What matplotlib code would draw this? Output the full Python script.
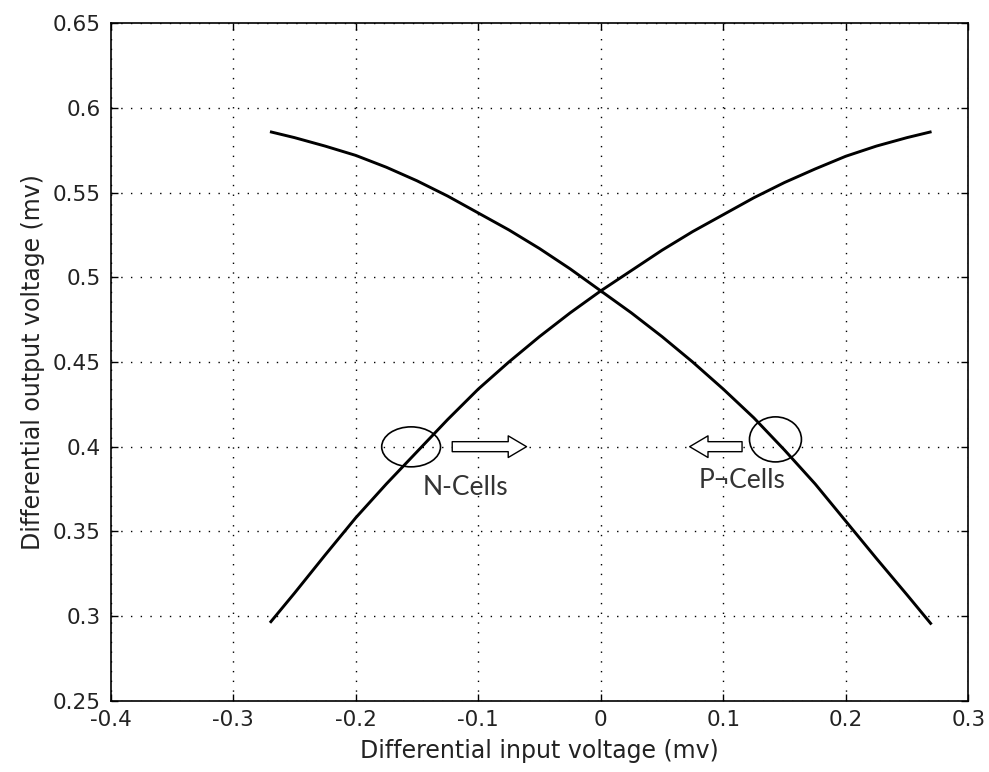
import matplotlib
matplotlib.use("Agg")
import matplotlib.pyplot as plt
from matplotlib.patches import Ellipse, FancyArrowPatch

# Data
x_n = [-0.27, -0.25, -0.225, -0.2, -0.175, -0.15, -0.125, -0.1, -0.075, -0.05, -0.025, 0.0,
       0.025, 0.05, 0.075, 0.1, 0.125, 0.15, 0.175, 0.2, 0.225, 0.25, 0.27]
y_n = [0.296, 0.3135, 0.336, 0.358, 0.378, 0.397, 0.416, 0.434, 0.450, 0.465, 0.479, 0.492,
       0.504, 0.516, 0.527, 0.537, 0.547, 0.556, 0.564, 0.5715, 0.5775, 0.5825, 0.586]
x_p = [-0.27, -0.25, -0.225, -0.2, -0.175, -0.15, -0.125, -0.1, -0.075, -0.05, -0.025, 0.0,
       0.025, 0.05, 0.075, 0.1, 0.125, 0.15, 0.175, 0.2, 0.225, 0.25, 0.27]
y_p = [0.586, 0.5825, 0.5775, 0.572, 0.565, 0.557, 0.548, 0.538, 0.528, 0.517, 0.505, 0.492,
       0.479, 0.465, 0.450, 0.434, 0.417, 0.398, 0.378, 0.356, 0.334, 0.3125, 0.295]

x_ticks = [-0.4, -0.3, -0.2, -0.1, 0, 0.1, 0.2, 0.3]
x_tick_labels = ["-0.4", "-0.3", "-0.2", "-0.1", "0", "0.1", "0.2", "0.3"]
y_ticks = [0.25, 0.3, 0.35, 0.4, 0.45, 0.5, 0.55, 0.6, 0.65]
y_tick_labels = ["0.25", "0.3", "0.35", "0.4", "0.45", "0.5", "0.55", "0.6", "0.65"]

n_label = "N-Cells"
p_label = "P\u00acCells"
x_label = "Differential input voltage (mv)"
y_label = "Differential output voltage (mv)"

fig = plt.figure(figsize=(9.89, 7.72), dpi=100)
ax = fig.add_axes([110.7/989, 1-700.7/772, (968.3-110.7)/989, (700.7-23.3)/772])

ax.plot(x_n, y_n, color="black", lw=2.1, solid_capstyle="butt", solid_joinstyle="round")
ax.plot(x_p, y_p, color="black", lw=2.1, solid_capstyle="butt", solid_joinstyle="round")

ax.set_xlim(-0.4, 0.3)
ax.set_ylim(0.25, 0.65)
ax.set_xticks(x_ticks)
ax.set_xticklabels(x_tick_labels)
ax.set_yticks(y_ticks)
ax.set_yticklabels(y_tick_labels)
ax.grid(True, color="black", linestyle=(0, (1, 6)), linewidth=1.0)
ax.tick_params(direction="in", length=5, width=1, top=True, right=True,
               labelsize=15.5, pad=7, colors="black")
for lab in ax.get_xticklabels() + ax.get_yticklabels():
    lab.set_fontfamily("DejaVu Sans")
    lab.set_color("#222222")
for s in ax.spines.values():
    s.set_linewidth(1.2)
    s.set_color("black")

ax.set_xlabel(x_label, fontsize=17, family="DejaVu Sans", labelpad=6, color="#222222")
ax.set_ylabel(y_label, fontsize=17, family="DejaVu Sans", labelpad=6, color="#222222")

# Annotations
ax.add_patch(Ellipse((-0.1548, 0.3999), 0.048, 0.0236, fill=False, ec="black", lw=1.2))
ax.add_patch(Ellipse((0.1426, 0.4043), 0.0424, 0.0266, fill=False, ec="black", lw=1.2))

style = "simple,head_width=1.3,head_length=1.1,tail_width=0.6"
ax.add_patch(FancyArrowPatch((-0.1235, 0.4), (-0.0583, 0.4), arrowstyle=style,
                             mutation_scale=12, fc="white", ec="black", lw=1.0, zorder=5))
ax.add_patch(FancyArrowPatch((0.1176, 0.4), (0.0703, 0.4), arrowstyle=style,
                             mutation_scale=12, fc="white", ec="black", lw=1.0, zorder=5))

ax.text(-0.1106, 0.3756, n_label, fontsize=19, family="Lato", color="#333333",
        ha="center", va="center")
ax.text(0.115, 0.3803, p_label, fontsize=19, family="Lato", color="#333333",
        ha="center", va="center")

fig.savefig("out.png", dpi=100)
